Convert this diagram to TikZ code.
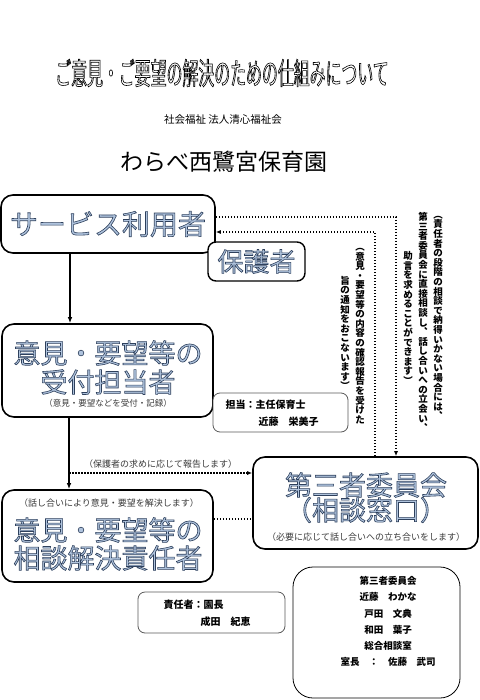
\documentclass[tikz,border=0pt]{standalone}
\usepackage{fontspec}
\setmainfont{Noto Sans CJK JP}
\newfontfamily\titlefont[FakeStretch=0.53]{Noto Sans CJK JP}
\usetikzlibrary{arrows.meta,positioning,calc}

\definecolor{waBlue}{HTML}{AFC3DD}
\definecolor{noteGray}{HTML}{3A3A3A}
\definecolor{boxGray}{HTML}{5A5A5A}

% outlined text: fill colour, stroke rgb, text
\newcommand\outl[3]{{\color{#1}\special{pdf:literal direct 2 Tr 0.6 w #2 RG}#3\special{pdf:literal direct 0 Tr}}}

% one column of vertical text
\makeatletter
\newcommand\tatecol[1]{\vbox{\baselineskip=9.6pt\lineskiplimit=-\maxdimen\tate@char#1\@nil}}
\def\tate@char#1{\ifx\@nil#1\else\hbox to 10pt{\hss#1\hss}\expandafter\tate@char\fi}
\makeatother

\begin{document}
\begin{tikzpicture}[x=1pt,y=-1pt,
    bigbox/.style={draw,line width=1.6pt,rounded corners=12pt,fill=white},
    smallbox/.style={draw=boxGray,line width=0.8pt,rounded corners=7pt,fill=white},
    dotline/.style={line width=1.5pt,dash pattern=on 1.5pt off 1.5pt},
    arr/.style={line width=1.1pt,-{Latex[length=6pt,width=4.5pt]}},
    tip/.style={-{Latex[length=5pt,width=4pt]}},
    big/.style={font=\fontsize{27}{29}\selectfont},
    note/.style={font=\fontsize{9}{11}\selectfont,text=noteGray},
    person/.style={font=\bfseries\fontsize{10}{12}\selectfont,anchor=west},
    tate/.style={font=\bfseries\fontsize{9.5}{9.6}\selectfont,inner sep=0pt}]
    \useasboundingbox (0,0) rectangle (479,700);
    \fill[white] (0,0) rectangle (479,700);
    % \draw[step=50,gray!30,thin] (0,0) grid (479,700);

    \node[font=\titlefont\fontsize{30}{32}\selectfont] (title) at (222,73) {\outl{white}{0 0 0}{ご意見・ご要望の解決のための仕組みについて}};
    \node[font=\fontsize{10.5}{12}\selectfont] (corp) at (223,120) {社会福祉 法人清心福祉会};
    \node[font=\fontsize{23}{25}\selectfont] (school) at (224,162) {わらべ西鷺宮保育園};

    \node[bigbox,minimum width=214pt,minimum height=58pt,font=\fontsize{28}{30}\selectfont] (user) at (108,224) {\outl{waBlue}{0.18 0.25 0.36}{サービス利用者}};
    \node[bigbox,line width=1.4pt,rounded corners=8pt,minimum width=97pt,minimum height=39pt,font=\fontsize{26}{28}\selectfont] (guardian) at (256.5,261.5) {\outl{waBlue}{0.18 0.25 0.36}{保護者}};

    \node[bigbox,minimum width=211pt,minimum height=93pt] (accept) at (107.5,370.5) {};
    \node[big] (acceptA) at (108,353) {\outl{waBlue}{0.18 0.25 0.36}{意見・要望等の}};
    \node[big] (acceptB) at (108,382) {\outl{waBlue}{0.18 0.25 0.36}{受付担当者}};
    \node[note,font=\fontsize{8.5}{10}\selectfont] (acceptN) at (108,403) {（意見・要望などを受付・記録）};

    \node[smallbox,minimum width=135pt,minimum height=39pt] (staff) at (280.5,412.5) {};
    \node[person] (staffA) at (222,405) {担当：主任保育士};
    \node[person] (staffB) at (255,422) {近藤　栄美子};

    \node[bigbox,minimum width=225pt,minimum height=92pt] (third) at (365.5,503) {};
    \node[big] (thirdA) at (366,485) {\outl{waBlue}{0.18 0.25 0.36}{第三者委員会}};
    \node[big] (thirdB) at (366,510) {\outl{waBlue}{0.18 0.25 0.36}{（相談窓口）}};
    \node[note] (thirdN) at (366,537) {（必要に応じて話し合いへの立ち合いをします）};

    \node[bigbox,minimum width=211pt,minimum height=92pt] (resolve) at (107.5,536) {};
    \node[note] (resolveN) at (109,503) {（話し合いにより意見・要望を解決します）};
    \node[big] (resolveA) at (108,530) {\outl{waBlue}{0.18 0.25 0.36}{意見・要望等の}};
    \node[big] (resolveB) at (108,558) {\outl{waBlue}{0.18 0.25 0.36}{相談解決責任者}};

    \node[smallbox,minimum width=147pt,minimum height=41pt] (chief) at (211.5,612.5) {};
    \node[person] (chiefA) at (160,605) {責任者：園長};
    \node[person] (chiefB) at (197,622) {成田　紀恵};

    \node[smallbox,draw=black,rounded corners=20pt,minimum width=167pt,minimum height=131pt] (members) at (376.5,632.5) {};
    \node[font=\bfseries\fontsize{9.5}{16.2}\selectfont,align=center] (membersT) at (388,621.5) {第三者委員会\\近藤　わかな\\戸田　文典\\和田　葉子\\総合相談室\\室長　：　佐藤　武司};

    \node[tate] (askA) at (438,318) {\tatecol{︵責任者の段階の相談で納得いかない場合には︑}};
    \node[tate] (askB) at (423,322) {\tatecol{第三者委員会に直接相談し︑話し合いへの立会い︑}};
    \node[tate] (askC) at (408,318) {\tatecol{助言を求めることができます︶}};
    \node[tate] (replyA) at (360,336) {\tatecol{︵意見・要望等の内容の確認報告を受けた}};
    \node[tate] (replyB) at (345,333) {\tatecol{旨の通知をおこないます︶}};

    \draw[arr] ([xshift=-38pt]user.south) -- ([xshift=-38pt]user.south |- accept.north);
    \draw[arr] ([xshift=-38.5pt]accept.south) -- ([xshift=-38.5pt]accept.south |- resolve.north);
    \draw[dotline,tip] ([yshift=7pt]user.east) -| ([xshift=30.5pt]third.north);
    \draw[dotline,tip] ([xshift=9.5pt]third.north) |- ([yshift=-8pt]user.east);
    \coordinate (report) at (69,473);
    \draw[dotline,tip] (report) -- (report -| third.west) node[note,midway,above=1pt] (reportN) {（保護者の求めに応じて報告します）};
    \draw[dotline] ([yshift=17pt]resolve.east) -- ([yshift=17pt]resolve.east -| third.west);
\end{tikzpicture}
\end{document}
